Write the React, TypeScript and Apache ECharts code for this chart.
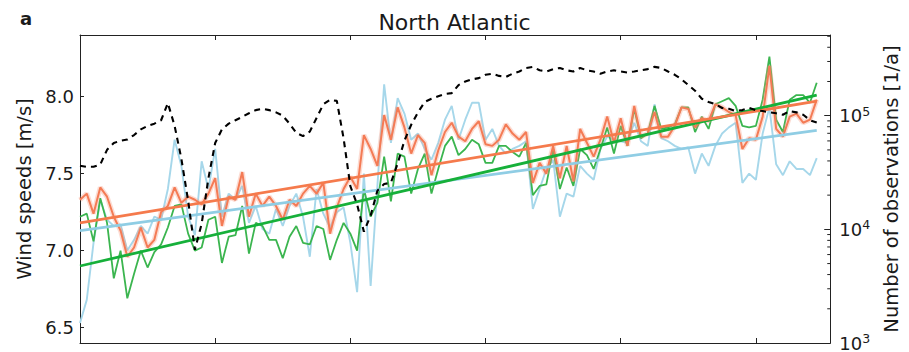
import React, { useEffect, useRef } from "react";
import * as echarts from "echarts";

// ---- data ----
const START_YEAR = 1900;

// light blue wind-speed series [m/s], 1900..2009
const windBlue = [
  6.53, 6.68, 7.05, 7.33, 7.2, 7.16, 7.17, 7.0, 7.07, 7.16,
  7.11, 7.22, 7.2, 7.4, 7.72, 7.55, 7.22, 7.1, 7.58, 7.4,
  7.66, 7.22, 7.37, 7.33, 7.42, 7.18, 7.29, 7.14, 7.11, 7.27,
  7.16, 7.29, 7.37, 7.22, 6.96, 7.4, 7.24, 7.15, 7.25, 7.28,
  7.05, 6.73, 7.5, 6.77, 7.42, 8.08, 7.7, 7.99, 7.89, 7.72,
  7.76, 7.66, 7.59, 7.7, 7.85, 7.94, 7.72, 7.85, 7.96, 7.96,
  7.72, 7.79, 7.68, 7.63, 7.66, 7.68, 7.71, 7.27, 7.4, 7.53,
  7.59, 7.22, 7.37, 7.35, 7.55, 7.5, 7.46, 7.66, 7.74, 7.72,
  7.71, 7.7, 7.83, 7.71, 7.68, 7.95, 7.73, 7.71, 7.68, 7.66,
  7.67, 7.5, 7.63, 7.55, 7.68, 7.76, 7.8, 7.83, 7.44, 7.5,
  7.46, 7.76, 7.93, 7.56, 7.49, 7.58, 7.53, 7.53, 7.49, 7.6,
];

// green wind-speed series [m/s], 1900..2009
const windGreen = [
  7.22, 7.24, 7.06, 7.34, 7.18, 6.82, 7.0, 6.69, 6.85, 7.0,
  6.89, 6.99, 7.04, 7.15, 7.29, 7.3, 7.11, 7.0, 7.02, 7.2,
  7.22, 6.92, 7.09, 7.1, 7.29, 6.98, 7.18, 7.16, 7.07, 7.07,
  6.95, 7.09, 7.16, 7.05, 7.04, 7.16, 7.14, 6.94, 7.07, 7.18,
  7.11, 7.0, 7.4, 7.22, 7.31, 7.61, 7.32, 7.63, 7.61, 7.37,
  7.53, 7.63, 7.37, 7.53, 7.68, 7.74, 7.62, 7.66, 7.72, 7.69,
  7.57, 7.57, 7.68, 7.68, 7.64, 7.61, 7.7, 7.36, 7.42, 7.43,
  7.66, 7.4, 7.54, 7.42, 7.66, 7.62, 7.53, 7.66, 7.8, 7.63,
  7.81, 7.68, 7.92, 7.73, 7.76, 7.94, 7.79, 7.8, 7.82, 7.93,
  7.93, 7.77, 7.87, 7.79, 7.95, 7.97, 7.99, 7.94, 7.81, 7.8,
  7.81, 7.98, 8.26, 7.85, 7.77, 7.98, 8.01, 8.01, 7.96, 8.09,
];

// orange wind-speed series [m/s], 1900..2009
const windOrange = [
  7.33, 7.37, 7.24, 7.41, 7.35, 7.22, 7.13, 6.96, 7.02, 7.15,
  7.02, 7.07, 7.25, 7.29, 7.41, 7.31, 7.35, 7.33, 7.3, 7.37,
  7.47, 7.16, 7.35, 7.33, 7.51, 7.22, 7.37, 7.29, 7.35, 7.29,
  7.2, 7.33, 7.29, 7.37, 7.42, 7.37, 7.44, 7.11, 7.28, 7.4,
  7.48, 7.4, 7.75, 7.66, 7.55, 7.88, 7.72, 7.93, 7.8, 7.63,
  7.75, 7.7, 7.49, 7.65, 7.77, 7.83, 7.74, 7.71, 7.79, 7.84,
  7.69, 7.68, 7.72, 7.82, 7.76, 7.72, 7.77, 7.44, 7.57, 7.5,
  7.68, 7.47, 7.68, 7.45, 7.79, 7.7, 7.61, 7.72, 7.87, 7.7,
  7.86, 7.68, 7.94, 7.74, 7.76, 7.9, 7.74, 7.74, 7.81, 7.93,
  7.92, 7.8, 7.86, 7.84, 7.95, 7.93, 7.9, 7.88, 7.66, 7.73,
  7.72, 7.87, 8.2, 7.79, 7.74, 7.87, 7.89, 7.83, 7.85, 7.98,
];

// number of observations per year [1/a], 1900..2009
const observations = [
  36300, 35500, 35500, 37200, 50100, 57500, 60300, 61700, 67600, 75900,
  81300, 85100, 91200, 129000, 81300, 41700, 17800, 6610, 11200, 28200,
  57500, 75900, 85100, 91200, 97700, 105000, 112000, 115000, 112000, 107000,
  100000, 85100, 70800, 66100, 72400, 95500, 126000, 138000, 135000, 63100,
  24000, 16600, 9550, 13200, 21900, 25100, 25700, 38000, 60300, 83200,
  107000, 132000, 141000, 148000, 155000, 158000, 186000, 200000, 209000, 214000,
  229000, 234000, 224000, 219000, 234000, 245000, 263000, 269000, 251000, 245000,
  257000, 263000, 251000, 245000, 263000, 251000, 245000, 234000, 245000, 251000,
  245000, 240000, 245000, 251000, 257000, 269000, 263000, 245000, 229000, 209000,
  186000, 166000, 141000, 132000, 126000, 117000, 115000, 110000, 112000, 117000,
  112000, 110000, 107000, 105000, 102000, 110000, 107000, 102000, 91200, 87100,
];

// linear trends (end points)
const trendYears = [1900, 2009];
const trendBlue = [7.13, 7.78];
const trendGreen = [6.9, 8.01];
const trendOrange = [7.18, 7.97];

// minor ticks of the logarithmic right axis
const minorTickValues = [
  2000, 3000, 4000, 5000, 6000, 7000, 8000, 9000,
  20000, 30000, 40000, 50000, 60000, 70000, 80000, 90000,
  200000, 300000, 400000, 500000,
];

const X_MIN = 1900;
const X_MAX = 2011;
const X_TICK_STEP = 20;
const WIND_MIN = 6.4;
const WIND_MAX = 8.4;
const OBS_MIN = 1000;
const OBS_MAX = 513000;

const FONT = "DejaVu Sans";
const TEXT = "#1a1a1a";
const C_BLUE = "#a6d7ea";
const C_BLUE_TREND = "#8fcde4";
const C_GREEN = "#3bb54f";
const C_GREEN_TREND = "#16b03a";
const C_ORANGE = "#f47b55";
const C_ORANGE_BAND = "rgba(246,150,120,0.33)";
const C_ORANGE_TREND = "#f57a4c";

const toPairs = (vals: number[]) => vals.map((v, i) => [START_YEAR + i, v]);
const trendPairs = (vals: number[]) => vals.map((v, i) => [trendYears[i], v]);

export default function App() {
  const ref = useRef<HTMLDivElement | null>(null);

  useEffect(() => {
    if (!ref.current) return;
    const chart = echarts.init(ref.current, undefined, { renderer: "svg" });

    const xAxisBase = {
      type: "value" as const,
      min: X_MIN,
      max: X_MAX,
      interval: X_TICK_STEP,
      axisLine: { show: true, lineStyle: { color: "#222", width: 1 } },
      axisTick: { show: true, inside: true, length: 5, lineStyle: { color: "#222" } },
      axisLabel: { show: false },
      splitLine: { show: false },
    };

    const option: any = {
      animation: false,
      title: {
        text: "North Atlantic",
        left: "center",
        top: 6,
        textStyle: { fontFamily: FONT, fontSize: 22, fontWeight: "normal", color: TEXT },
      },
      graphic: [
        {
          type: "text",
          left: 20,
          top: 9,
          style: { text: "a", fontFamily: FONT, fontSize: 18, fontWeight: "bold", fill: TEXT },
        },
      ],
      grid: { left: 80, right: 76, top: 35, bottom: 8, containLabel: false },
      xAxis: [
        { ...xAxisBase, position: "bottom" },
        { ...xAxisBase, position: "top" },
      ],
      yAxis: [
        {
          type: "value",
          min: WIND_MIN,
          max: WIND_MAX,
          minInterval: 0.5,
          maxInterval: 0.5,
          position: "left",
          name: "Wind speeds [m/s]",
          nameLocation: "middle",
          nameGap: 44,
          nameRotate: 90,
          nameTextStyle: { fontFamily: FONT, fontSize: 19.5, color: TEXT },
          axisLine: { show: true, lineStyle: { color: "#222", width: 1 } },
          axisTick: { show: true, inside: true, length: 4, lineStyle: { color: "#222" } },
          axisLabel: {
            fontFamily: FONT,
            fontSize: 18,
            color: TEXT,
            margin: 6,
            formatter: (v: number) =>
              Math.abs(v * 2 - Math.round(v * 2)) < 1e-6 ? v.toFixed(1) : "",
          },
          splitLine: { show: false },
        },
        {
          type: "log",
          logBase: 10,
          min: OBS_MIN,
          max: OBS_MAX,
          position: "right",
          name: "Number of observations [1/a]",
          nameLocation: "middle",
          nameGap: 43,
          nameRotate: 90,
          nameTextStyle: { fontFamily: FONT, fontSize: 19.5, color: TEXT },
          axisLine: { show: true, lineStyle: { color: "#222", width: 1 } },
          axisTick: { show: true, inside: true, length: 6, lineStyle: { color: "#222" } },
          axisLabel: {
            margin: 9,
            formatter: (v: number) => {
              const e = Math.log10(v);
              if (Math.abs(e - Math.round(e)) > 0.01) return "";
              return "{b|10}{s|" + Math.round(e) + "}";
            },
            rich: {
              b: { fontFamily: FONT, fontSize: 18, color: TEXT, lineHeight: 22 },
              s: { fontFamily: FONT, fontSize: 12.5, color: TEXT, verticalAlign: "top", lineHeight: 14 },
            },
          },
          splitLine: { show: false },
        },
      ],
      series: [
        {
          type: "line",
          data: toPairs(windBlue),
          xAxisIndex: 0,
          yAxisIndex: 0,
          showSymbol: false,
          symbol: "none",
          silent: true,
          lineStyle: { color: C_BLUE, width: 1.9 },
          z: 2,
        },
        {
          type: "line",
          data: toPairs(windGreen),
          showSymbol: false,
          symbol: "none",
          silent: true,
          lineStyle: { color: C_GREEN, width: 1.8 },
          z: 3,
        },
        {
          type: "line",
          data: toPairs(windOrange),
          showSymbol: false,
          symbol: "none",
          silent: true,
          lineStyle: { color: C_ORANGE_BAND, width: 5 },
          z: 4,
        },
        {
          type: "line",
          data: toPairs(windOrange),
          showSymbol: false,
          symbol: "none",
          silent: true,
          lineStyle: { color: C_ORANGE, width: 2 },
          z: 5,
        },
        {
          type: "line",
          data: trendPairs(trendBlue),
          showSymbol: false,
          symbol: "none",
          silent: true,
          lineStyle: { color: C_BLUE_TREND, width: 2.8 },
          z: 6,
        },
        {
          type: "line",
          data: trendPairs(trendGreen),
          showSymbol: false,
          symbol: "none",
          silent: true,
          lineStyle: { color: C_GREEN_TREND, width: 2.8 },
          z: 7,
        },
        {
          type: "line",
          data: trendPairs(trendOrange),
          showSymbol: false,
          symbol: "none",
          silent: true,
          lineStyle: { color: C_ORANGE_TREND, width: 2.8 },
          z: 8,
        },
        {
          type: "line",
          data: toPairs(observations),
          yAxisIndex: 1,
          showSymbol: false,
          symbol: "none",
          silent: true,
          lineStyle: { color: "#000", width: 2.1, type: [6, 5] },
          z: 9,
        },
        {
          type: "custom",
          yAxisIndex: 1,
          silent: true,
          clip: false,
          data: minorTickValues.map((v) => [X_MAX, v]),
          encode: { x: 0, y: 1 },
          renderItem: (params: any, api: any) => {
            const p = api.coord([api.value(0), api.value(1)]);
            return {
              type: "line",
              shape: { x1: p[0] - 3, y1: p[1], x2: p[0], y2: p[1] },
              style: { stroke: "#222", lineWidth: 1 },
            };
          },
          z: 10,
        },
      ],
    };

    chart.setOption(option);
    return () => chart.dispose();
  }, []);

  return (
    <div
      ref={ref}
      style={{ position: "absolute", left: 0, top: 0, width: 909, height: 352, background: "#fff" }}
    />
  );
}
